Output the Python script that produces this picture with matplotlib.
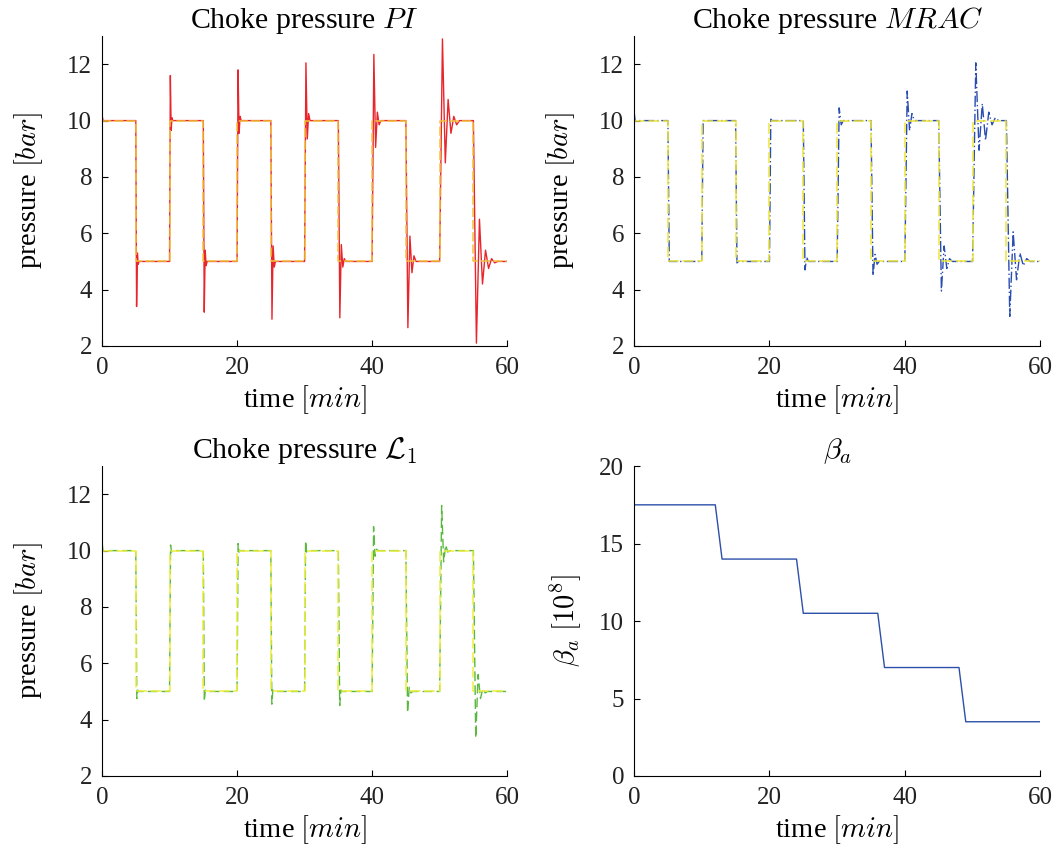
import numpy as np
import matplotlib
matplotlib.use("Agg")
import matplotlib.pyplot as plt

plt.rcParams['font.family'] = ['Liberation Serif', 'DejaVu Serif']
plt.rcParams['mathtext.fontset'] = 'cm'

# ---------------- data ----------------
# set-point square wave [bar], changes every 5 min
sp_time = [0, 5, 10, 15, 20, 25, 30, 35, 40, 45, 50, 55, 60]
sp_level = [10, 5, 10, 5, 10, 5, 10, 5, 10, 5, 10, 5]

# transient extremes after each set-point change (t = 5, 10, ..., 55)
pi_start = 10.2
pi_ext = [
    [3.4, 5.3, 4.9],
    [11.6, 9.65, 10.1],
    [3.2, 5.4, 4.85],
    [11.8, 9.55, 10.15],
    [2.95, 5.55, 4.8],
    [12.05, 9.35, 10.25],
    [3.0, 5.6, 4.8, 5.1],
    [12.35, 9.05, 10.3, 9.85],
    [2.65, 5.9, 4.6, 5.2],
    [12.9, 8.5, 10.75, 9.55, 10.15, 9.85],
    [2.1, 6.5, 4.2, 5.4, 4.75, 5.1, 4.95],
]
pi_dt = [0.12, 0.12, 0.14, 0.15, 0.17, 0.2, 0.22, 0.26, 0.3, 0.42, 0.45]

mrac_start = 10.35
mrac_ext = [
    [5.0],
    [10.0],
    [4.95],
    [10.05],
    [4.7, 5.15],
    [10.45, 9.85],
    [4.5, 5.25, 4.9],
    [11.05, 9.65, 10.25],
    [3.95, 5.55, 4.75, 5.1],
    [12.05, 8.95, 10.6, 9.3, 10.3, 9.85, 10.1],
    [3.05, 6.05, 4.35, 5.3, 4.85, 5.1],
]
mrac_dt = [0.2, 0.2, 0.2, 0.2, 0.25, 0.3, 0.3, 0.35, 0.4, 0.48, 0.5]

l1_start = 10.3
l1_ext = [
    [4.75, 5.05],
    [10.2, 9.95],
    [4.65, 5.05],
    [10.25, 9.95],
    [4.55, 5.05],
    [10.35, 9.95],
    [4.5, 5.05],
    [10.85, 9.8, 10.05],
    [4.25, 5.15, 4.95],
    [11.6, 9.6, 10.2, 9.95],
    [3.35, 5.6, 4.75, 5.1, 4.95],
]
l1_dt = [0.15, 0.15, 0.15, 0.15, 0.15, 0.15, 0.2, 0.22, 0.25, 0.3, 0.35]

# bulk modulus beta_a [10^8]
beta_t = [0, 12, 13, 24, 25, 36, 37, 48, 49, 60]
beta_v = [17.5, 17.5, 14, 14, 10.5, 10.5, 7, 7, 3.5, 3.5]


def response(start, extremes, dt):
    t, y = [0.0, 0.15], [start, sp_level[0]]
    for i, ts in enumerate(sp_time[1:-1]):
        t.append(ts)
        y.append(sp_level[i])
        for k, v in enumerate(extremes[i]):
            t.append(ts + dt[i] * (k + 1))
            y.append(v)
        t.append(ts + dt[i] * (len(extremes[i]) + 1))
        y.append(sp_level[i + 1])
    t.append(sp_time[-1])
    y.append(sp_level[-1])
    return t, y


FS_TICK = 18
FS_TEXT = 20.5
FS_TITLE = 21.5


def style(ax, ylim, yticks, title, ylabel, ypad=16):
    ax.set_xlim(0, 60)
    ax.set_ylim(*ylim)
    ax.set_xticks([0, 20, 40, 60])
    ax.set_yticks(yticks)
    ax.spines['top'].set_visible(False)
    ax.spines['right'].set_visible(False)
    ax.tick_params(direction='in', length=4, width=0.8, labelsize=FS_TICK,
                   labelcolor='#222222')
    ax.tick_params(axis='x', pad=8)
    ax.tick_params(axis='y', pad=7)
    ax.set_title(title, fontsize=FS_TITLE, pad=5)
    ax.set_xlabel(r'time $[min]$', fontsize=FS_TEXT, labelpad=3)
    ax.set_ylabel(ylabel, fontsize=FS_TEXT, labelpad=ypad)


fig = plt.figure(figsize=(10.55, 8.49), dpi=100)
ax1 = fig.add_axes([0.0967, 0.5925, 0.384, 0.365])
ax2 = fig.add_axes([0.601, 0.5925, 0.385, 0.365])
ax3 = fig.add_axes([0.0967, 0.086, 0.384, 0.365])
ax4 = fig.add_axes([0.601, 0.086, 0.385, 0.365])

sp_y = sp_level + [sp_level[-1]]

# PI
t, y = response(pi_start, pi_ext, pi_dt)
ax1.plot(t, y, color='#e8252b', lw=1.0)
ax1.step(sp_time, sp_y, where='post', color='#f3c13a', lw=1.1,
         dashes=(6, 2))
style(ax1, (2, 13), range(2, 13, 2), r'Choke pressure $PI$', r'pressure $[bar]$')

# MRAC
t, y = response(mrac_start, mrac_ext, mrac_dt)
ax2.plot(t, y, color='#2a4db0', lw=1.0, dashes=(8, 2, 1, 2))
ax2.step(sp_time, sp_y, where='post', color='#eee53a', lw=1.1,
         dashes=(7, 2.5))
style(ax2, (2, 13), range(2, 13, 2), r'Choke pressure $MRAC$', r'pressure $[bar]$')

# L1
t, y = response(l1_start, l1_ext, l1_dt)
ax3.plot(t, y, color='#5bb83f', lw=1.0, dashes=(7, 3))
ax3.step(sp_time, sp_y, where='post', color='#eeee40', lw=1.1,
         dashes=(7, 2.5))
style(ax3, (2, 13), range(2, 13, 2), r'Choke pressure $\mathcal{L}_1$', r'pressure $[bar]$')

# beta_a
ax4.plot(beta_t, beta_v, color='#2c4fa8', lw=1.0)
style(ax4, (0, 20), range(0, 21, 5), r'$\beta_a$', r'$\beta_a\ [10^8]$', ypad=11)

fig.savefig('out.png', dpi=100)
